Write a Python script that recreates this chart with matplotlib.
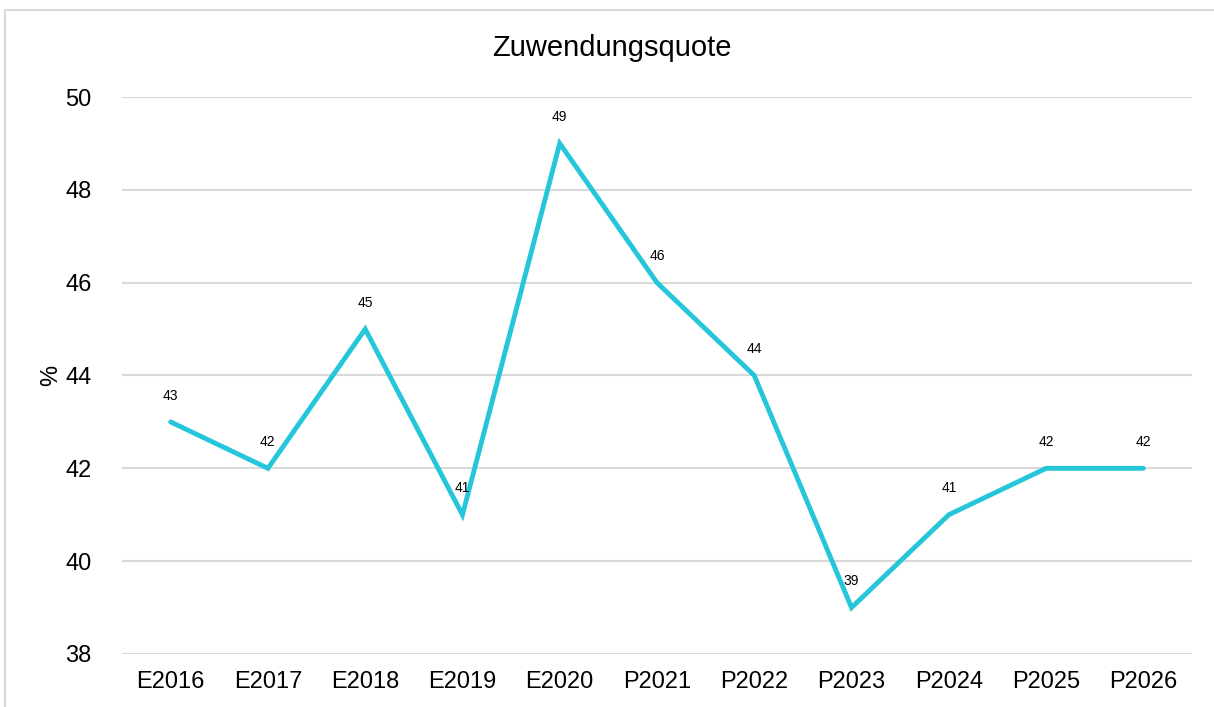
import matplotlib
matplotlib.use("Agg")
import matplotlib.pyplot as plt
from matplotlib.patches import Rectangle

categories = ["E2016", "E2017", "E2018", "E2019", "E2020", "P2021", "P2022",
              "P2023", "P2024", "P2025", "P2026"]
values = [43, 42, 45, 41, 49, 46, 44, 39, 41, 42, 42]
yticks = [38, 40, 42, 44, 46, 48, 50]

plt.rcParams['font.family'] = ['Liberation Sans', 'DejaVu Sans']

W, H = 1214, 707
fig = plt.figure(figsize=(W / 100, H / 100), dpi=100)
ax = fig.add_axes([122 / W, 1 - 654 / H, (1192 - 122) / W, (654 - 97) / H])

x = list(range(len(categories)))
ax.plot(x, values, color='#26C6DA', lw=3.5, solid_capstyle='round', solid_joinstyle='miter', zorder=3)
for xi, v in zip(x, values):
    ax.annotate(str(v), (xi, v), xytext=(0, 19), textcoords='offset points',
                ha='center', va='center', fontsize=10, color='#000000')

ax.set_xlim(-0.5, len(categories) - 0.5)
ax.set_ylim(38, 50)
ax.set_yticks(yticks)
ax.set_xticks(x)
ax.set_xticklabels(categories)
ax.tick_params(axis='both', length=0, labelsize=17, colors='#000000')
ax.tick_params(axis='y', pad=22)
ax.tick_params(axis='x', pad=12)
ax.grid(axis='y', color='#D9D9D9', lw=1.5)
ax.set_axisbelow(True)
for s in ax.spines.values():
    s.set_visible(False)

ax.set_ylabel('%', fontsize=17)
ax.yaxis.set_label_coords((62 - 122) / (1192 - 122), 0.5)
fig.text(612 / W, 1 - 48 / H, 'Zuwendungsquote', ha='center', va='center', fontsize=21)

fig.patches.append(Rectangle((5 / W, -0.1), 1.2, 1 - 10 / H + 0.1, transform=fig.transFigure,
                             fill=False, edgecolor='#D9D9D9', lw=1.5))

fig.savefig('out.png', dpi=100)
